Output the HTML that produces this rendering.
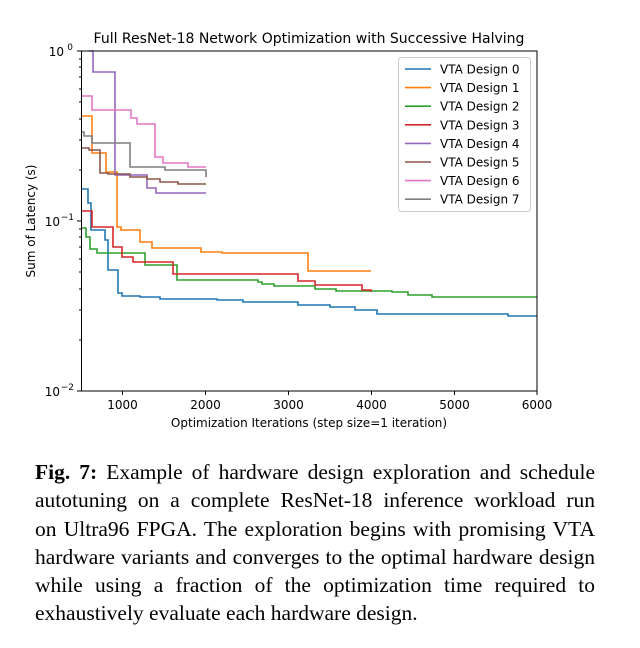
<!DOCTYPE html>
<html><head><meta charset="utf-8">
<style>
body{margin:0;background:#fff;width:640px;height:648px;position:relative;overflow:hidden}
svg{position:absolute;left:0;top:0}
.cap{position:absolute;left:35px;width:560px;font-family:"Liberation Serif",serif;font-size:21.5px;line-height:28.3px;top:458px;color:#000}
.cap div{text-align:justify;text-align-last:justify;white-space:nowrap;height:28.3px}
.cap div.l{text-align-last:left}
</style></head><body>
<svg width="640" height="450" font-family="DejaVu Sans, Liberation Sans, sans-serif">
<text x="309" y="43" font-size="14" text-anchor="middle">Full ResNet-18 Network Optimization with Successive Halving</text>
<g fill="none" stroke-width="1.6" stroke-linejoin="miter">
<polyline stroke="#1f77b4" points="81,189 88,189 88,203 91,203 91,230 105,230 105,240 108,240 108,270 118,270 118,293 122,293 122,296 140,296 140,297 160,297 160,299 217,299 217,300 243,300 243,302 298,302 298,305 330,305 330,307 355,307 355,310 377,310 377,314 508,314 508,316 537,316"/>
<polyline stroke="#ff7f0e" points="81,116 92,116 92,153 106,153 106,172 117,172 117,227 121,227 121,230 140,230 140,242 152,242 152,248 201,248 201,252 222,252 222,253 308,253 308,271 371,271"/>
<polyline stroke="#2ca02c" points="81,228 86,228 86,237 90,237 90,249 97,249 97,253 145,253 145,265 177,265 177,280 258,280 258,282 262,282 262,284 274,284 274,286 315,286 315,289 336,289 336,291 392,291 392,292 408,292 408,295 432,295 432,297 537,297"/>
<polyline stroke="#d62728" points="81,211 92,211 92,227 113,227 113,247 122,247 122,257 133,257 133,262 173,262 173,274 298,274 298,281 315,281 315,285 362,285 362,290 371,290 371,292"/>
<polyline stroke="#9467bd" points="89,51 93,51 93,72 115,72 115,175 147,175 147,188 156,188 156,193 206,193"/>
<polyline stroke="#8c564b" points="81,148 89,148 89,150 100,150 100,173 108,173 108,174 130,174 130,177 147,177 147,179 160,179 160,182 178,182 178,184 206,184"/>
<polyline stroke="#e377c2" points="81,96 92,96 92,110 131,110 131,118 137,118 137,124 155,124 155,157 163,157 163,163 188,163 188,167 206,167"/>
<polyline stroke="#7f7f7f" points="81,132 84,132 84,136 92,136 92,143 130,143 130,167 165,167 165,170 206,170 206,177"/>
</g>
<rect x="81.5" y="51" width="455.5" height="340" fill="none" stroke="#000" stroke-width="1"/>
<g stroke="#000" stroke-width="1">
<line x1="81" y1="51" x2="77" y2="51"/><line x1="81" y1="221" x2="77" y2="221"/><line x1="81" y1="391" x2="77" y2="391"/>
<line x1="81" y1="170" x2="79" y2="170"/><line x1="81" y1="140" x2="79" y2="140"/><line x1="81" y1="119" x2="79" y2="119"/><line x1="81" y1="102" x2="79" y2="102"/><line x1="81" y1="89" x2="79" y2="89"/><line x1="81" y1="77" x2="79" y2="77"/><line x1="81" y1="67" x2="79" y2="67"/><line x1="81" y1="59" x2="79" y2="59"/>
<line x1="81" y1="340" x2="79" y2="340"/><line x1="81" y1="310" x2="79" y2="310"/><line x1="81" y1="289" x2="79" y2="289"/><line x1="81" y1="272" x2="79" y2="272"/><line x1="81" y1="259" x2="79" y2="259"/><line x1="81" y1="247" x2="79" y2="247"/><line x1="81" y1="237" x2="79" y2="237"/><line x1="81" y1="229" x2="79" y2="229"/>
<line x1="122.5" y1="391" x2="122.5" y2="395"/><line x1="205.5" y1="391" x2="205.5" y2="395"/><line x1="288.5" y1="391" x2="288.5" y2="395"/><line x1="371.5" y1="391" x2="371.5" y2="395"/><line x1="454.5" y1="391" x2="454.5" y2="395"/><line x1="537" y1="391" x2="537" y2="395"/>
</g>
<g font-size="12" text-anchor="middle">
<text x="122.5" y="409">1000</text><text x="205.5" y="409">2000</text><text x="288.5" y="409">3000</text><text x="371.5" y="409">4000</text><text x="454.5" y="409">5000</text><text x="537" y="409">6000</text>
<text x="309" y="427">Optimization Iterations (step size=1 iteration)</text>
</g>
<g font-size="12" text-anchor="end">
<text x="64" y="56">10</text><text x="73" y="50" font-size="9">0</text>
<text x="60" y="226">10</text><text x="74" y="220" font-size="9">−1</text>
<text x="60" y="396">10</text><text x="74" y="390" font-size="9">−2</text>
</g>
<text transform="translate(35,221) rotate(-90)" font-size="12" text-anchor="middle">Sum of Latency (s)</text>
<rect x="398.5" y="57.5" width="132" height="154" rx="3" fill="#fff" stroke="#ccc"/>
<g stroke-width="1.6">
<line x1="405" y1="69" x2="431" y2="69" stroke="#1f77b4"/>
<line x1="405" y1="87.6" x2="431" y2="87.6" stroke="#ff7f0e"/>
<line x1="405" y1="106.2" x2="431" y2="106.2" stroke="#2ca02c"/>
<line x1="405" y1="124.8" x2="431" y2="124.8" stroke="#d62728"/>
<line x1="405" y1="143.4" x2="431" y2="143.4" stroke="#9467bd"/>
<line x1="405" y1="162" x2="431" y2="162" stroke="#8c564b"/>
<line x1="405" y1="180.6" x2="431" y2="180.6" stroke="#e377c2"/>
<line x1="405" y1="199.2" x2="431" y2="199.2" stroke="#7f7f7f"/>
</g>
<g font-size="12">
<text x="440" y="73.5">VTA Design 0</text><text x="440" y="92">VTA Design 1</text><text x="440" y="110.7">VTA Design 2</text><text x="440" y="129.3">VTA Design 3</text><text x="440" y="147.9">VTA Design 4</text><text x="440" y="166.5">VTA Design 5</text><text x="440" y="185.1">VTA Design 6</text><text x="440" y="203.7">VTA Design 7</text>
</g>
</svg>
<div class="cap">
<div><b>Fig. 7:</b> Example of hardware design exploration and schedule</div>
<div>autotuning on a complete ResNet-18 inference workload run</div>
<div>on Ultra96 FPGA. The exploration begins with promising VTA</div>
<div>hardware variants and converges to the optimal hardware design</div>
<div>while using a fraction of the optimization time required to</div>
<div class="l">exhaustively evaluate each hardware design.</div>
</div>
</body></html>
